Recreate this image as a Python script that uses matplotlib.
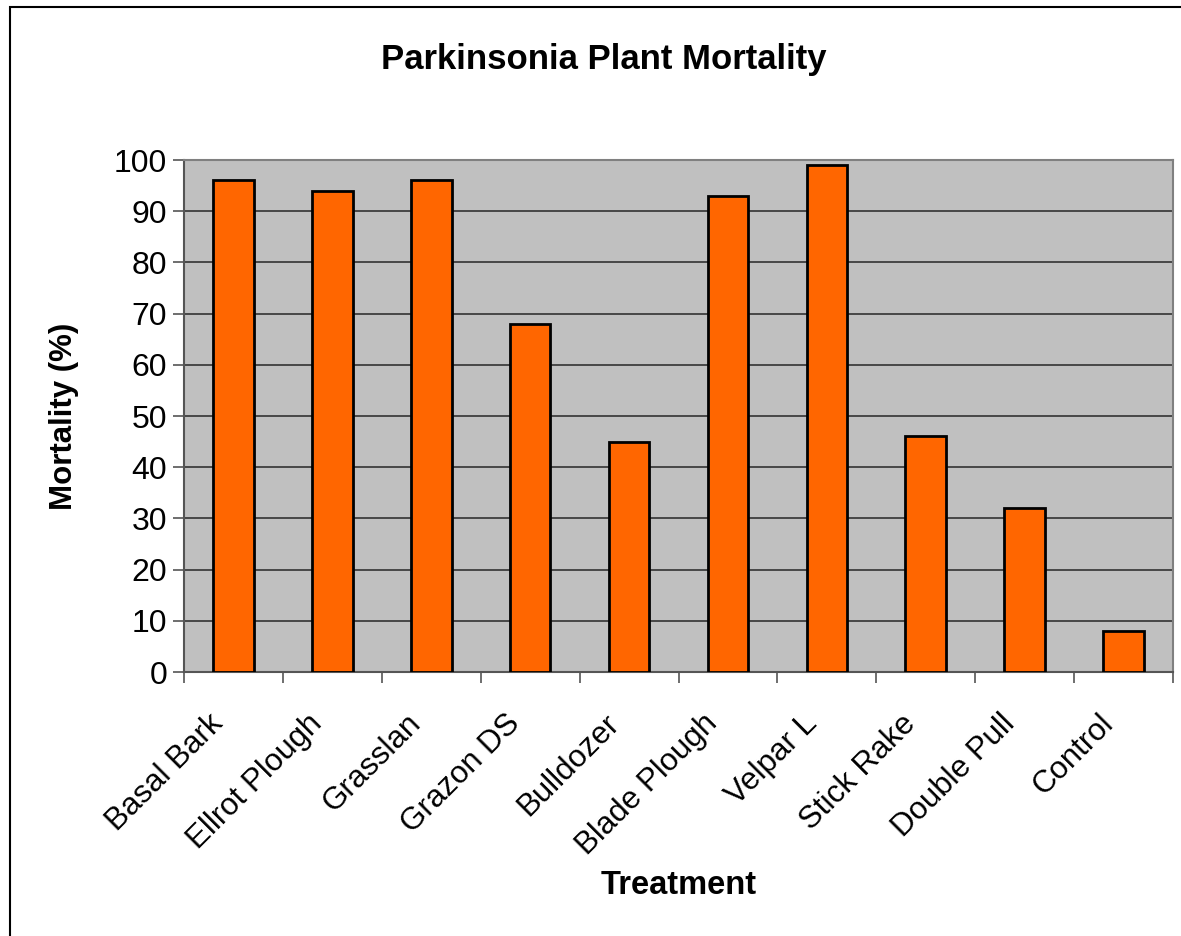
import matplotlib
matplotlib.use("Agg")
import matplotlib.pyplot as plt
from matplotlib.patches import Rectangle
from matplotlib.transforms import ScaledTranslation

categories = ["Basal Bark", "Ellrot Plough", "Grasslan", "Grazon DS", "Bulldozer",
              "Blade Plough", "Velpar L", "Stick Rake", "Double Pull", "Control"]
mortality = [96, 94, 96, 68, 45, 93, 99, 46, 32, 8]
yticks = [0, 10, 20, 30, 40, 50, 60, 70, 80, 90, 100]

plt.rcParams['font.family'] = ['Liberation Sans', 'DejaVu Sans']

fig = plt.figure(figsize=(11.81, 9.36), dpi=100)
fig.patches.append(Rectangle((10/1181, -0.2), 1.2, 1.2 - 7/936, transform=fig.transFigure,
                             fill=False, edgecolor='black', linewidth=1.5, zorder=0))

ax = fig.add_axes([184/1181, 1 - 672/936, (1173-184)/1181, (672-160)/936])
ax.set_facecolor('#c0c0c0')
x = list(range(len(categories)))
ax.bar(x, mortality, width=0.41, color='#ff6600', edgecolor='black', linewidth=2, zorder=3)
ax.set_xlim(-0.5, len(categories) - 0.5)
ax.set_ylim(0, 100)
ax.set_yticks(yticks)
ax.yaxis.grid(True, color='#333333', linewidth=1.2, zorder=1)
ax.set_axisbelow(True)

ax.set_xticks([i + 0.5 for i in range(-1, len(categories))], minor=False)
ax.set_xticklabels([])
ax.set_xticks(x, minor=True)
ax.set_xticklabels(categories, minor=True, rotation=45, ha='right', va='baseline',
                   rotation_mode='anchor', fontsize=22.5)
ax.tick_params(axis='x', which='minor', length=0, pad=38)
ax.tick_params(axis='x', which='major', length=8, width=1.2, color='#555555', direction='out')
ax.tick_params(axis='y', length=8, width=1.2, color='#555555', labelsize=23, pad=4)
off = ScaledTranslation(-9/100, 0, fig.dpi_scale_trans)
for lbl in ax.get_xticklabels(minor=True):
    lbl.set_transform(lbl.get_transform() + off)

for s in ['top', 'right']:
    ax.spines[s].set_color('#808080')
    ax.spines[s].set_linewidth(1.5)
for s in ['left', 'bottom']:
    ax.spines[s].set_color('#555555')
    ax.spines[s].set_linewidth(1.5)

fig.text(604/1181, 1 - 60/936, "Parkinsonia Plant Mortality", ha='center', va='center',
         fontsize=25, fontweight='bold')
fig.text(679/1181, 1 - 885/936, "Treatment", ha='center', va='center',
         fontsize=23.5, fontweight='bold')
fig.text(64/1181, 1 - 416/936, "Mortality (%)", ha='center', va='center',
         fontsize=22.5, fontweight='bold', rotation=90)

fig.savefig("out.png", dpi=100)
